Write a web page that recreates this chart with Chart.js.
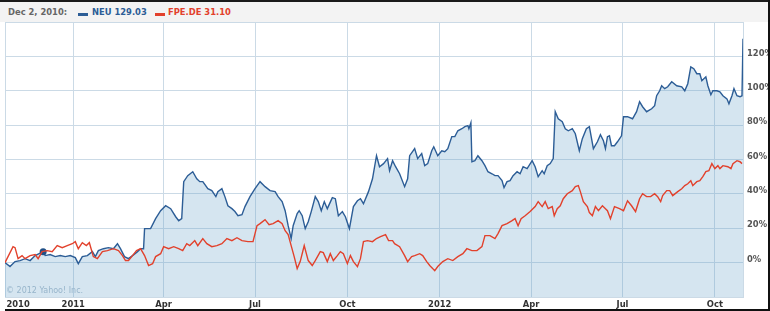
<!DOCTYPE html>
<html>
<head>
<meta charset="utf-8">
<script src="https://cdn.jsdelivr.net/npm/chart.js@4.4.0/dist/chart.umd.min.js"></script>
<style>
  body { margin: 0; background: #fff; }
  #wrap { position: relative; width: 770px; height: 311px; overflow: hidden; font-family: "DejaVu Sans", sans-serif; }
  #chart { position: absolute; left: 0; top: 0; }
  #legend { position: absolute; left: 0; top: 0; width: 768px; height: 20px; background: #f3f3f3; border-top: 2px solid #1a1a1a; font-weight: bold; font-size: 8.4px; }
  #legend span { position: absolute; top: 5px; white-space: nowrap; }
  #legend i { position: absolute; top: 11px; width: 10px; height: 3px; }
  .edge { position: absolute; background: #111; }
</style>
</head>
<body>
<div id="wrap">
  <canvas id="chart" width="770" height="311"></canvas>
  <div id="legend">
    <span style="left:8px;color:#666">Dec 2, 2010:</span>
    <i style="left:78px;background:#2c5d96"></i>
    <span style="left:92px;color:#2c5d96">NEU 129.03</span>
    <i style="left:155px;background:#e2412c"></i>
    <span style="left:168px;color:#e2412c">FPE.DE 31.10</span>
  </div>
  <div class="edge" style="left:768px;top:0;width:2px;height:311px"></div>
  <div class="edge" style="left:5px;top:309px;width:765px;height:2px"></div>
</div>
<script>
// days counted from Jan 1, 2011; values are % change
const tickDays = [-68, -55, 0, 90, 181, 273, 365, 456, 547, 639];
const tickLabels = ['', '2010', '2011', 'Apr', 'Jul', 'Oct', '2012', 'Apr', 'Jul', 'Oct'];
const hoverDay = -30;

const neuDays = [-68,-63,-58,-53,-48,-43,-38,-30,-28,-23,
  -18,-13,-8,-3,2,5,9,14,19,22,
  25,30,35,40,44,47,51,55,59,64,
  67,70,71,75,77,82,87,92,97,102,
  105,108,110,114,119,123,126,129,134,138,
  142,144,148,151,154,158,161,164,168,171,
  176,181,186,191,196,201,204,208,211,214,
  217,219,223,225,228,231,234,237,241,244,
  247,250,253,258,261,264,268,271,275,279,
  283,286,289,294,298,302,305,309,313,315,
  318,321,325,330,333,335,340,343,347,350,
  353,357,359,363,367,370,373,377,380,383,
  387,390,393,394,396,397,400,403,407,410,
  413,417,420,423,427,429,432,435,438,442,
  445,448,452,457,460,463,467,469,472,475,
  478,480,483,487,490,493,497,500,504,507,
  511,514,518,522,525,528,530,532,534,536,
  539,542,546,548,552,557,561,564,567,571,
  576,579,581,584,586,589,592,596,601,606,
  609,612,615,618,621,624,626,630,632,635,
  637,641,644,647,651,653,656,658,661,664,
  666,667];
const neuPct = [0,-2.3,0.6,1.2,2.3,1.2,4.1,6.4,4.1,4.7,
  3.5,4.1,3.5,4.1,2.9,-0.6,3.5,4.1,6.4,3.5,
  7.0,8.1,8.7,8.1,11.0,8.1,3.5,2.3,4.1,6.4,
  8.1,8.1,19.8,19.8,19.8,25.6,30.2,33.1,31.4,26.7,
  24.4,25.6,47.1,50.6,52.9,48.8,47.1,47.1,43.0,41.9,
  38.4,41.3,43.0,38.4,33.1,31.4,29.7,27.3,27.9,32.6,
  38.4,43.0,47.1,44.2,41.9,41.3,38.4,35.5,30.2,21.5,
  14.0,21.5,28.5,30.2,27.3,19.8,23.8,29.7,38.4,35.5,
  30.2,35.5,31.4,37.8,37.2,27.3,29.7,26.7,19.8,32.6,
  36.0,37.2,34.3,41.3,48.8,62.2,55.8,57.6,60.5,53.5,
  59.3,55.8,51.7,44.2,48.8,62.2,66.3,60.5,63.4,56.4,
  57.6,65.1,67.4,62.2,65.1,64.5,66.3,73.3,73.3,76.7,
  77.9,79.1,79.7,77.9,81.4,58.7,59.3,62.2,59.3,56.4,
  52.9,51.7,50.6,50.6,47.7,43.6,47.1,47.7,50.6,52.9,
  51.7,55.8,54.7,59.3,55.8,50.0,53.5,51.7,56.4,57.6,
  60.5,87.8,83.7,82.0,77.9,76.7,77.9,75.0,65.1,72.1,
  77.9,79.1,66.3,70.3,74.4,70.9,66.3,73.3,73.8,68.0,
  68.0,70.3,73.8,84.9,84.9,83.7,87.8,93.6,90.7,87.8,
  89.5,91.3,97.1,100.0,102.9,101.2,102.3,105.2,102.9,102.3,
  100.0,104.1,113.9,112.8,109.9,109.9,105.8,108.1,102.9,97.7,
  100.0,100.0,99.4,97.1,95.3,92.4,97.1,101.2,97.1,96.5,
  97.1,130.2];

const fpeDays = [-68,-60,-58,-55,-51,-48,-43,-38,-35,-31,
  -26,-21,-16,-11,-6,-1,2,5,9,13,
  16,20,24,29,34,40,45,49,52,55,
  59,63,67,71,75,79,82,87,90,95,
  100,105,109,113,116,121,124,129,133,138,
  143,148,153,158,163,168,174,179,183,186,
  191,195,199,204,208,211,214,217,220,223,
  226,230,234,238,241,246,249,253,256,259,
  263,266,269,273,276,279,283,286,289,293,
  298,302,306,311,314,318,320,325,330,333,
  337,340,345,348,352,355,360,363,368,373,
  378,383,388,392,397,402,407,410,415,420,
  423,427,432,437,440,443,446,450,455,460,
  463,467,470,473,477,479,482,485,488,492,
  497,500,503,505,508,512,514,517,520,523,
  527,530,532,535,539,544,548,552,556,560,
  564,567,571,575,579,582,585,587,591,594,
  597,602,606,609,612,615,617,621,624,627,
  630,633,636,639,642,644,647,652,655,657,
  661,664,666];
const fpePct = [0,9.3,8.7,2.3,4.1,2.3,4.1,4.7,2.3,6.4,
  7.0,6.4,9.9,8.7,9.9,11.0,12.2,8.1,11.6,9.9,
  11.6,3.5,2.3,6.4,7.0,8.1,7.0,4.1,1.2,1.2,
  4.1,7.0,8.1,4.1,-1.7,-0.6,3.5,5.2,9.3,8.1,
  9.3,8.1,7.0,11.0,9.9,12.8,9.9,14.0,11.0,9.3,
  9.9,11.0,14.0,12.8,14.5,12.8,12.2,12.2,21.5,22.7,
  25.0,22.1,22.7,24.4,22.7,18.6,16.3,9.9,3.5,-3.5,
  0.6,9.9,1.2,-1.7,1.2,6.4,5.8,0.6,5.2,1.2,
  4.1,6.4,5.2,-0.6,4.1,0.6,-2.3,2.3,12.2,12.8,
  12.2,14.0,15.1,16.3,12.8,12.8,11.0,9.3,4.1,0.6,
  3.5,4.1,5.2,4.1,0.6,-1.7,-4.7,-2.3,0.6,2.3,
  1.2,3.5,5.2,8.1,7.0,7.0,9.3,15.7,15.7,14.0,
  16.9,21.5,22.7,24.4,25.6,21.5,25.6,27.3,29.7,32.6,
  35.5,32.6,35.5,31.4,32.6,27.3,31.4,33.1,37.2,40.1,
  41.9,44.2,44.8,41.3,35.5,32.6,29.1,27.3,32.6,30.2,
  33.1,31.4,30.2,25.6,32.6,31.4,30.2,36.0,33.1,29.7,
  37.2,40.1,38.4,38.4,40.1,38.4,35.5,39.0,41.9,41.9,
  39.0,41.3,43.0,44.8,45.9,47.7,44.8,47.1,47.7,50.0,
  52.9,53.5,57.6,54.7,56.4,54.7,56.4,55.8,54.7,57.6,
  59.3,58.7,57.6];

const gridColor = '#cbdae6';

const watermark = {
  id: 'watermark',
  beforeDatasetsDraw(chart) {
    const { ctx, chartArea } = chart;
    ctx.save();
    ctx.font = '8px "DejaVu Sans", sans-serif';
    ctx.fillStyle = '#aabdcc';
    ctx.textBaseline = 'middle';
    ctx.fillText('\u00a9 2012 Yahoo! Inc.', chartArea.left + 1, chartArea.bottom - 6);
    ctx.restore();
  }
};

new Chart(document.getElementById('chart'), {
  type: 'line',
  data: {
    datasets: [
      {
        label: 'FPE.DE',
        data: fpeDays.map((d, i) => ({ x: d, y: fpePct[i] })),
        borderColor: '#e2412c',
        borderWidth: 1.4,
        pointRadius: 0,
        fill: false,
        tension: 0
      },
      {
        label: 'NEU',
        data: neuDays.map((d, i) => ({ x: d, y: neuPct[i] })),
        borderColor: '#2c5d96',
        borderWidth: 1.4,
        backgroundColor: 'rgba(100, 160, 200, 0.27)',
        pointRadius: neuDays.map(d => d === hoverDay ? 3.5 : 0),
        pointBackgroundColor: '#1f4f86',
        pointBorderWidth: 0,
        fill: 'start',
        tension: 0
      }
    ]
  },
  options: {
    responsive: false,
    animation: false,
    events: [],
    layout: { padding: { left: 5, top: 22, right: 0, bottom: 0 } },
    plugins: { legend: { display: false }, tooltip: { enabled: false } },
    scales: {
      x: {
        type: 'linear',
        min: -68,
        max: 667,
        afterBuildTicks(scale) {
          scale.ticks = tickDays.map(v => ({ value: v }));
        },
        afterFit(scale) { scale.height = 14; },
        border: { display: true, color: gridColor },
        grid: {
          color: ctx => (ctx.tick && ctx.tick.value === -55) ? 'rgba(0,0,0,0)' : gridColor,
          drawTicks: false
        },
        ticks: {
          autoSkip: false,
          maxRotation: 0,
          padding: 3,
          color: '#333',
          font: { family: 'DejaVu Sans', size: 8.4, weight: 'bold' },
          callback: v => {
            const i = tickDays.indexOf(v);
            return i >= 0 ? tickLabels[i] : '';
          }
        }
      },
      y: {
        position: 'right',
        min: -20,
        max: 140,
        afterFit(scale) { scale.width = 27; },
        border: { display: true, color: gridColor },
        grid: { color: gridColor, drawTicks: false },
        ticks: {
          stepSize: 20,
          padding: 4,
          labelOffset: -3,
          color: '#555',
          font: { family: 'DejaVu Sans', size: 8.4, weight: 'bold' },
          callback: v => (v >= 0 && v <= 120) ? v + '%' : ''
        }
      }
    }
  },
  plugins: [watermark]
});
</script>
</body>
</html>
